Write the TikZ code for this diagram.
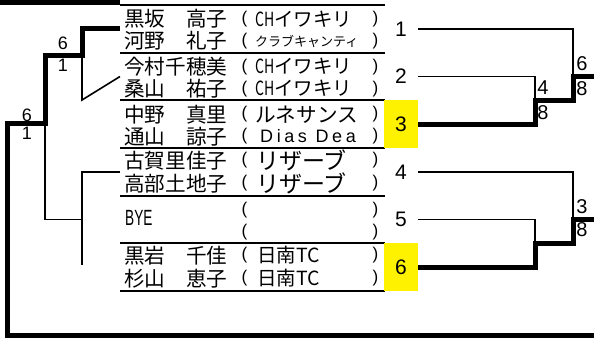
\documentclass[tikz,border=0pt]{standalone}
\usepackage{fontspec}
\usepackage{graphicx}
\newfontfamily\cjk{Noto Sans CJK JP}
\newfontfamily\arial{Liberation Sans}
\newfontfamily\arialsp[LetterSpace=20]{Liberation Sans}
\tikzset{
 thinln/.style={line width=1.6pt},
 thickln/.style={line width=5pt, line join=miter},
 sepln/.style={line width=1.8pt},
 entry/.style={minimum width=265pt, minimum height=47.67pt, inner sep=0pt, outer sep=0pt, anchor=north west},
 nm/.style={anchor=west, inner sep=0pt, font=\cjk\fontsize{20.6}{20.6}\selectfont},
 club/.style={anchor=west, inner sep=0pt, font=\cjk\fontsize{19.5}{19.5}\selectfont},
 prn/.style={inner sep=0pt, font=\arial\fontsize{17}{17}\selectfont},
 numbox/.style={minimum width=34pt, minimum height=47.67pt, inner sep=0pt, outer sep=0pt, font=\arial\fontsize{21}{21}\selectfont},
 winbox/.style={numbox, fill=yellow},
 blab/.style={inner sep=0pt, font=\arial\fontsize{20}{20}\selectfont},
 slab/.style={inner sep=0pt, font=\arial\fontsize{18}{18}\selectfont},
}
\begin{document}
\begin{tikzpicture}[x=1pt, y=-1pt]
\useasboundingbox (0,0) rectangle (594,338);
% header bar
\node[fill=black, minimum width=120pt, minimum height=5pt, inner sep=0pt, outer sep=0pt, anchor=north west] (hdr) at (0,0) {};
% entries
\node[entry] (e1) at (120,5) {};
\node[entry] (e2) at (120,52.67) {};
\node[entry] (e3) at (120,100.33) {};
\node[entry] (e4) at (120,148) {};
\node[entry] (e5) at (120,195.67) {};
\node[entry] (e6) at (120,243.33) {};
\foreach \e in {e1,e2,e3,e4,e5,e6} \draw[sepln] (\e.north west) -- (\e.north east);
\draw[sepln] (e6.south west) -- (e6.south east);
% names
\node[nm] (t1a) at (124,19) {黒坂　高子};
\node[nm] (t1b) at (124,41) {河野　礼子};
\node[nm] (t2a) at (124,66.7) {今村千穂美};
\node[nm] (t2b) at (124,88.7) {桑山　祐子};
\node[nm] (t3a) at (124,114.3) {中野　真里};
\node[nm] (t3b) at (124,136.3) {通山　諒子};
\node[nm] (t4a) at (124,160.5) {古賀里佳子};
\node[nm] (t4b) at (124,183.5) {高部土地子};
\node[nm, font=\arial\fontsize{22}{22}\selectfont] (t5a) at (125,217.5) {\scalebox{0.62}[1]{BYE}};
\node[nm] (t6a) at (124,255.5) {黒岩　千佳};
\node[nm] (t6b) at (124,278.5) {杉山　恵子};
% clubs
\node[club] (c1a) at (255,19) {\scalebox{0.72}[1]{CH}イワキリ};
\node[club, font=\cjk\fontsize{13}{13}\selectfont] (c1b) at (255,42) {クラブキャンティ};
\node[club] (c2a) at (255,66.7) {\scalebox{0.72}[1]{CH}イワキリ};
\node[club] (c2b) at (255,88.7) {\scalebox{0.72}[1]{CH}イワキリ};
\node[club, font=\cjk\fontsize{20.6}{20.6}\selectfont] (c3a) at (255,114.3) {ルネサンス};
\node[club, font=\arialsp\fontsize{18}{18}\selectfont] (c3b) at (260,136.3) {Dias Dea};
\node[club, font=\cjk\fontsize{23}{23}\selectfont] (c4a) at (256,160.5) {リザーブ};
\node[club, font=\cjk\fontsize{23}{23}\selectfont] (c4b) at (256,183.5) {リザーブ};
\node[club] (c6a) at (257,255.5) {日南TC};
\node[club] (c6b) at (257,278.5) {日南TC};
% parentheses
\foreach \y [count=\i] in {19,41,66.7,88.7,114.3,136.3,160.5,183.5,209.7,231.7,255.5,278.5} {
  \node[prn] (pl\i) at (244.5,\y) {(};
  \node[prn] (pr\i) at (375.5,\y) {)};
}
% numbers
\node[numbox] (n1) at (401,28.83) {1};
\node[numbox] (n2) at (401,76.5) {2};
\node[winbox] (n3) at (401,124.17) {3};
\node[numbox] (n4) at (401,171.83) {4};
\node[numbox] (n5) at (401,219.5) {5};
\node[winbox] (n6) at (401,267.17) {6};
% right bracket coordinates
\coordinate (r1) at (573,76.5);
\coordinate (r2) at (535,100.5);
\coordinate (r3) at (594,76.5);
\coordinate (r4) at (573,219.5);
\coordinate (r5) at (535,243.3);
\coordinate (r6) at (594,219.5);
\draw[thinln] (n1.east) -| (r1);
\draw[thinln] (n2.east) -| (r2);
\draw[thinln] (n4.east) -| (r4);
\draw[thinln] (n5.east) -| (r5);
\draw[thickln] (n3.east) -| (r2) -| (r1) -- (r3);
\draw[thickln] (n6.east) -| (r5) -| (r4) -- (r6);
\node[blab] (q1) at (543,88) {4};
\node[blab] (q2) at (543,113) {8};
\node[blab] (q3) at (582,64) {6};
\node[blab] (q4) at (582,89) {8};
\node[blab] (q5) at (582,207) {3};
\node[blab] (q6) at (582,230) {8};
% left bracket coordinates
\coordinate (a1) at (82,55);
\coordinate (a2) at (45,123);
\coordinate (a3) at (7,335);
\coordinate (a4) at (594,335);
\coordinate (b1) at (82,100);
\coordinate (b2) at (82,265);
\coordinate (b3) at (82,219.5);
\coordinate (b4) at (45,219.5);
\draw[thinln] (e2.west) -- (b1) -- (a1);
\draw[thinln] (e4.west) -| (b2);
\draw[thinln] (b3) -- (b4) -- (a2);
\draw[thickln] (e1.west) -| (a1) -| (a2) -| (a3) -- (a4);
\node[slab] (p1) at (63,43) {6};
\node[slab] (p2) at (63,65) {1};
\node[slab] (p3) at (27,115) {6};
\node[slab] (p4) at (27,133) {1};
\end{tikzpicture}
\end{document}
